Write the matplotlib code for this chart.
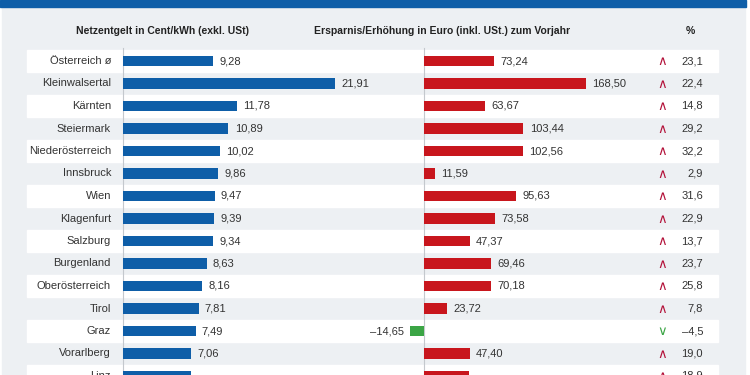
import matplotlib
matplotlib.use("Agg")
import matplotlib.pyplot as plt
from matplotlib.patches import Rectangle

plt.rcParams['font.family'] = ['Liberation Sans', 'DejaVu Sans']

# -----------------------
# Data
# -----------------------
regions = ["Österreich ø", "Kleinwalsertal", "Kärnten", "Steiermark", "Niederösterreich",
           "Innsbruck", "Wien", "Klagenfurt", "Salzburg", "Burgenland",
           "Oberösterreich", "Tirol", "Graz", "Vorarlberg", "Linz"]
netz = [9.28, 21.91, 11.78, 10.89, 10.02, 9.86, 9.47, 9.39, 9.34, 8.63, 8.16, 7.81, 7.49, 7.06, 7.07]
diff = [73.24, 168.50, 63.67, 103.44, 102.56, 11.59, 95.63, 73.58, 47.37, 69.46,
        70.18, 23.72, -14.65, 47.40, 47.29]
pct = [23.1, 22.4, 14.8, 29.2, 32.2, 2.9, 31.6, 22.9, 13.7, 23.7, 25.8, 7.8, -4.5, 19.0, 18.9]

head_left = "Netzentgelt in Cent/kWh (exkl. USt)"
head_mid = "Ersparnis/Erhöhung in Euro (inkl. USt.) zum Vorjahr"
head_pct = "%"

# -----------------------
# Style
# -----------------------
W, H = 750, 375
BLUE = "#0e5ea8"
RED = "#c8161d"
GREEN = "#3ba545"
UP = "#b3123a"
BG = "#edf0f3"
TXT = "#333333"
FS = 8

row0, pitch = 61, 22.5          # pixel y of first row, row spacing
ylim = ((H - row0) / pitch, (0 - row0) / pitch)
fmt = lambda v: f"{v:.2f}".replace(".", ",").replace("-", "–")

fig = plt.figure(figsize=(W / 100, H / 100), dpi=100)
fig.patch.set_facecolor("white")

# background axes in pixel x / row y
bg = fig.add_axes([0, 0, 1, 1])
bg.set_xlim(0, W)
bg.set_ylim(*ylim)
bg.axis("off")
bg.add_patch(Rectangle((2, ylim[1]), 743, ylim[0] - ylim[1], color=BG, zorder=0))
bg.add_patch(Rectangle((0, ylim[1]), 746, 7 / pitch, color=BLUE, zorder=1))
for i in range(0, len(regions), 2):
    bg.axhspan(i - 0.5, i + 0.5, xmin=27 / W, xmax=718 / W, color="white", zorder=1)
for x in (123, 424):
    bg.plot([x, x], [(48 - row0) / pitch, ylim[0]], color="#c4c8cd", lw=0.8, zorder=2)

hy = (31 - row0) / pitch
for x, s in ((163, head_left), (442, head_mid), (690, head_pct)):
    bg.text(x, hy, s, ha="center", va="center", fontsize=7.5, fontweight="bold", color="#222")

for i, (name, p) in enumerate(zip(regions, pct)):
    bg.text(111, i, name, ha="right", va="center", fontsize=FS, color=TXT, zorder=3)
    bg.text(662, i + 0.05, "∧" if p >= 0 else "∨", ha="center", va="center", fontsize=9.5,
            color=UP if p >= 0 else GREEN, zorder=3)
    bg.text(703, i, f"{p:.1f}".replace(".", ",").replace("-", "–"), ha="right",
            va="center", fontsize=FS, color=TXT, zorder=3)

# left bars: zero at x=123 px, 9.68 px per unit
axl = fig.add_axes([123 / W, 0, (375 - 123) / W, 1])
axl.set_xlim(0, (375 - 123) / 9.68)
axl.set_ylim(*ylim)
axl.axis("off")
bl = axl.barh(range(len(regions)), netz, height=0.47, color=BLUE, zorder=3)
axl.bar_label(bl, labels=[fmt(v) for v in netz], padding=4.5, fontsize=FS, color=TXT)

# right bars: zero at x=424 px, 0.961 px per unit
axr = fig.add_axes([375 / W, 0, (640 - 375) / W, 1])
axr.set_xlim((375 - 424) / 0.961, (640 - 424) / 0.961)
axr.set_ylim(*ylim)
axr.axis("off")
br = axr.barh(range(len(regions)), diff, height=0.47,
              color=[RED if v >= 0 else GREEN for v in diff], zorder=3)
axr.bar_label(br, labels=[fmt(v) for v in diff], padding=4.5, fontsize=FS, color=TXT)

fig.savefig("out.png", dpi=100)
